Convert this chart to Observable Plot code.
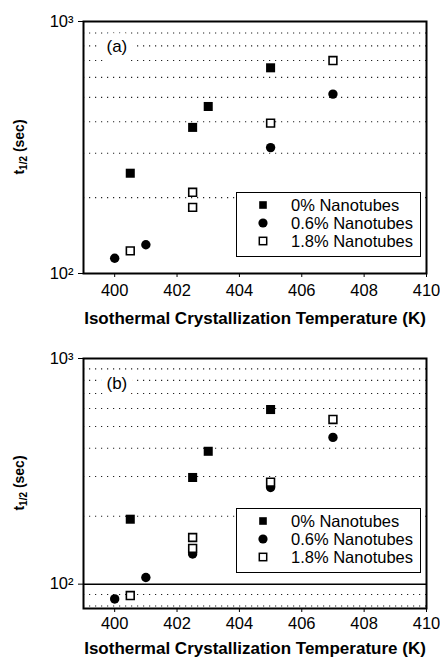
<!DOCTYPE html>
<html><head><meta charset="utf-8">
<script src="https://cdn.jsdelivr.net/npm/d3@7"></script>
<script src="https://cdn.jsdelivr.net/npm/@observablehq/plot@0.6"></script>
<style>
body{margin:0;background:#fff;}
#wrap{position:relative;width:440px;height:660px;font-family:"Liberation Sans",Arial,sans-serif;background:#fff;}
#wrap svg{display:block;}
.legend{position:absolute;left:236px;width:183px;height:63px;border:1.5px solid #000;background:#fff;}
.legend .row{position:absolute;left:0;height:18px;width:183px;}
.legend .row svg{position:absolute;left:19px;top:2px;}
.legend .row span{position:absolute;left:54px;top:0;font-size:16.5px;line-height:18px;white-space:nowrap;color:#000;}
</style>
</head><body>
<div id="wrap"></div>
<script>
// ---- data ----
const seriesNames = ["0% Nanotubes", "0.6% Nanotubes", "1.8% Nanotubes"];
const xTicks = [400, 402, 404, 406, 408, 410];
const yTicks = [100, 1000];
const yTickLabels = ["10²", "10³"];
const xTitle = "Isothermal Crystallization Temperature (K)";

// panel (a)
const tempA0 = [400.5, 402.5, 403, 405];
const timeA0 = [250, 380, 460, 655];
const tempA06 = [400, 401, 405, 407];
const timeA06 = [115, 130, 316, 515];
const tempA18 = [400.5, 402.5, 402.5, 405, 407];
const timeA18 = [123, 210, 183, 395, 700];
const gridA = [200, 300, 400, 500, 600, 700, 800, 900];

// panel (b)
const tempB0 = [400.5, 402.5, 403, 405];
const timeB0 = [194, 297, 388, 594];
const tempB06 = [400, 401, 402.5, 405, 407];
const timeB06 = [86, 107, 136, 268, 447];
const tempB18 = [400.5, 402.5, 402.5, 405, 407];
const timeB18 = [89, 161, 144, 283, 537];
const gridB = [80, 90, 200, 300, 400, 500, 600, 700, 800, 900];

const zip = (xs, ys) => xs.map((x, i) => ({x, y: ys[i]}));

function panel({tag, s0, s06, s18, yDomain, grid, solid, mt, mb, pad, titleDy}) {
  const H = 330;
  const svg = Plot.plot({
    width: 440, height: H,
    marginLeft: 83, marginRight: 14, marginTop: mt, marginBottom: mb,
    style: {fontFamily: "Liberation Sans, Arial, sans-serif", fontSize: "16.5px", color: "#000", background: "#fff", overflow: "visible"},
    x: {domain: [399, 410], ticks: xTicks, tickSize: 4, tickPadding: pad, label: null, tickFormat: d => String(d)},
    y: {type: "log", domain: yDomain, ticks: yTicks, tickSize: 5, tickPadding: 5, label: null,
        tickFormat: d => yTickLabels[yTicks.indexOf(d)]},
    marks: [
      Plot.ruleY(grid, {stroke: "#222", strokeWidth: 1.1, strokeDasharray: "1.2,4.8"}),
      Plot.ruleY(solid, {stroke: "#000", strokeWidth: 1.5}),
      Plot.text([tag], {frameAnchor: "top-left", textAnchor: "start", lineAnchor: "middle", dx: 23, dy: 25,
        fontSize: 17, fill: "black", stroke: "white", strokeWidth: 14, paintOrder: "stroke"}),
      Plot.dot(s0, {x: "x", y: "y", symbol: "square", r: 5.1, fill: "black", stroke: "none"}),
      Plot.dot(s06, {x: "x", y: "y", symbol: "circle", r: 4.7, fill: "black", stroke: "none"}),
      Plot.dot(s18, {x: "x", y: "y", symbol: "square", r: 4.4, fill: "white", stroke: "black", strokeWidth: 1.6}),
      Plot.frame({stroke: "black", strokeWidth: 2}),
      Plot.text([xTitle], {frameAnchor: "bottom", textAnchor: "middle", lineAnchor: "middle", dy: titleDy,
        fontSize: 17, fontWeight: "bold", fill: "black"})
    ]
  });
  // y axis title with subscript
  const top = mt, bottom = H - mb;
  const cy = (top + bottom) / 2;
  const t = d3.select(svg).append("text")
    .attr("transform", `translate(24,${cy}) rotate(-90)`)
    .attr("text-anchor", "middle")
    .attr("font-family", "Liberation Sans, Arial, sans-serif")
    .attr("font-weight", "bold")
    .attr("font-size", 14)
    .attr("fill", "black");
  t.append("tspan").text("t");
  t.append("tspan").attr("font-size", 10).attr("dy", 3).text("1/2");
  t.append("tspan").attr("dy", -3).text(" (sec)");
  return svg;
}

const wrap = document.getElementById("wrap");
wrap.appendChild(panel({tag: "(a)", s0: zip(tempA0, timeA0), s06: zip(tempA06, timeA06), s18: zip(tempA18, timeA18),
  yDomain: [100, 1000], grid: gridA, solid: [], mt: 21, mb: 57, pad: 7, titleDy: 45}));
wrap.appendChild(panel({tag: "(b)", s0: zip(tempB0, timeB0), s06: zip(tempB06, timeB06), s18: zip(tempB18, timeB18),
  yDomain: [78, 1000], grid: gridB, solid: [100], mt: 28, mb: 52, pad: 5, titleDy: 40}));

// legends
const icons = [
  '<svg width="14" height="14"><rect x="3.2" y="3.2" width="7.6" height="7.6" fill="black"/></svg>',
  '<svg width="14" height="14"><circle cx="7" cy="7" r="4.6" fill="black"/></svg>',
  '<svg width="14" height="14"><rect x="3.3" y="3.3" width="7.4" height="7.4" fill="white" stroke="black" stroke-width="1.5"/></svg>'
];
function legend(topPx) {
  const box = document.createElement("div");
  box.className = "legend";
  box.style.top = topPx + "px";
  seriesNames.forEach((name, i) => {
    const row = document.createElement("div");
    row.className = "row";
    row.style.top = (3 + 18 * i) + "px";
    row.innerHTML = icons[i] + "<span></span>";
    row.querySelector("span").textContent = name;
    box.appendChild(row);
  });
  wrap.appendChild(box);
}
legend(192);
legend(508);
</script>
</body></html>
